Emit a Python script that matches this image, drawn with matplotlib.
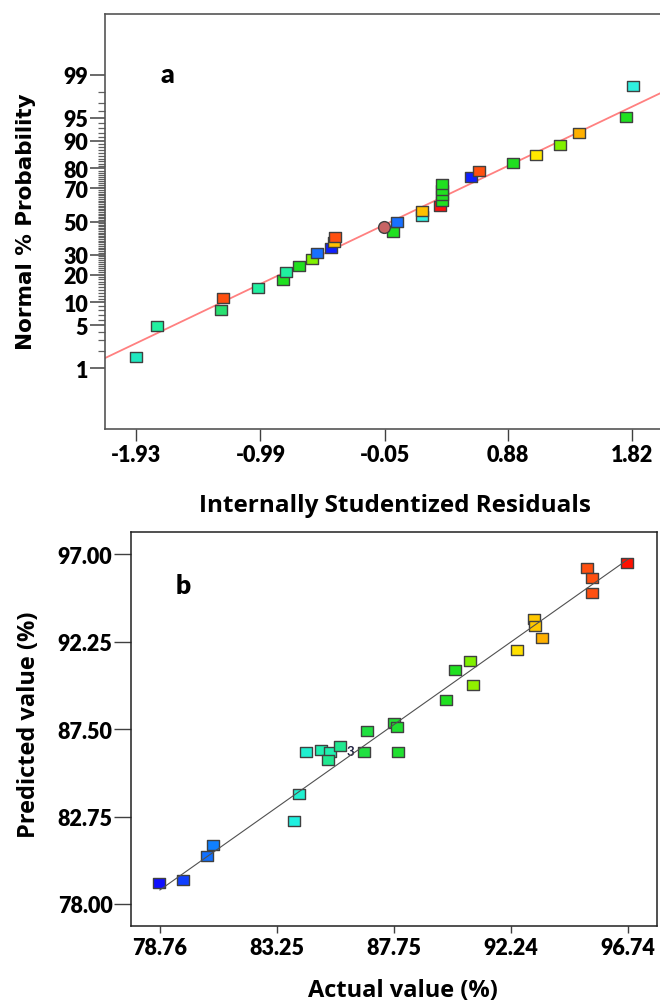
import numpy as np
import matplotlib
matplotlib.use("Agg")
import matplotlib.pyplot as plt
from matplotlib.path import Path
from statistics import NormalDist

# ---- data: panel a (normal probability of residuals)
res_x = [-1.93, -1.77, -1.29, -1.27, -1.005, -0.82, -0.80, -0.70, -0.60, -0.56,
         -0.46, -0.43, -0.425, 0.01, -0.056, 0.043, 0.229, 0.232, 0.367, 0.38,
         0.386, 0.386, 0.386, 0.604, 0.662, 0.921, 1.097, 1.274, 1.418, 1.777, 1.825]
res_p = [1.6, 4.8, 8.1, 11.3, 14.5, 17.7, 21.0, 24.2, 27.4, 30.6,
         33.9, 37.1, 40.3, 43.5, 46.8, 50.0, 53.2, 56.5, 59.7, 62.9,
         66.1, 69.4, 72.6, 75.8, 79.0, 82.3, 85.5, 88.7, 91.9, 95.2, 98.4]
res_c = ["#20e8c0", "#20f0a0", "#28e070", "#ff5010", "#20f0a0", "#20e020", "#20f0a0",
         "#20e020", "#80f000", "#1870ff", "#1020ff", "#ffc000", "#ff5010", "#20e020",
         "#c86464", "#1870ff", "#30f0e0", "#ffc000", "#ff1010", "#20e020", "#20e020",
         "#20e020", "#20e020", "#1020ff", "#ff5010", "#20e020", "#ffe800", "#80f000",
         "#ffb000", "#20e020", "#30f0e0"]
circle_idx = 14
prob_ticks = [1, 5, 10, 20, 30, 50, 70, 80, 90, 95, 99]
res_ticks = [-1.93, -0.99, -0.05, 0.88, 1.82]

# ---- data: panel b (predicted vs actual)
actual = [78.74, 79.66, 80.58, 80.79, 83.89, 84.10, 84.36, 84.94, 85.28, 85.22,
          85.69, 86.59, 86.70, 87.75, 87.86, 87.91, 89.75, 90.09, 90.66, 90.80,
          92.48, 93.13, 93.16, 93.45, 95.18, 95.36, 95.36, 96.70]
predicted = [79.13, 79.29, 80.60, 81.19, 82.50, 83.99, 86.25, 86.38, 86.25, 85.82,
             86.61, 86.25, 87.41, 87.83, 87.61, 86.25, 89.10, 90.69, 91.20, 89.88,
             91.82, 93.48, 93.08, 92.43, 96.24, 95.73, 94.92, 96.53]
pred_c = ["#1010ff", "#1040ff", "#1070ff", "#1080ff", "#20f0e0", "#20f0d0", "#20f0d0",
          "#20f0b0", "#20f0b0", "#20e890", "#20e890", "#20e040", "#20e040", "#20e030",
          "#20e030", "#20e030", "#20e020", "#20e020", "#80f000", "#90f000", "#ffe000",
          "#ffc800", "#ffc800", "#ffb000", "#ff5010", "#ff5010", "#ff5010", "#ff1000"]
replicate_idx = 11
act_ticks = [78.76, 83.25, 87.75, 92.24, 96.74]
pred_ticks = [78.00, 82.75, 87.50, 92.25, 97.00]

nd = NormalDist()


def probit(p):
    p = np.clip(np.asarray(p, dtype=float), 1e-6, 100 - 1e-6)
    return np.vectorize(lambda v: nd.inv_cdf(v / 100.0), otypes=[float])(p)


def inv_probit(z):
    z = np.asarray(z, dtype=float)
    return np.vectorize(lambda v: nd.cdf(v) * 100.0, otypes=[float])(z)


# slightly wide square like the original
rect = Path([(-1.25, -1), (1.25, -1), (1.25, 1), (-1.25, 1), (-1.25, -1)],
            [Path.MOVETO, Path.LINETO, Path.LINETO, Path.LINETO, Path.CLOSEPOLY])

W, H = 660, 1003
fig = plt.figure(figsize=(W / 100, H / 100), dpi=100)
tick_font = dict(family="Lato", weight="heavy", size=15.5)
label_font = dict(family="Open Sans", weight="bold")

# ================= panel a
ax1 = fig.add_axes([105 / W, 1 - 430 / H, 560 / W, 415 / H])
ax1.set_yscale("function", functions=(probit, inv_probit))
xlo, xhi = -2.166, 2.07
ax1.set_xlim(xlo, xhi)
ax1.set_ylim(0.05, 99.95)

lx = np.array([xlo, xhi])
ax1.plot(lx, inv_probit(lx), color="#ff8080", lw=1.3, zorder=2)

for i in range(len(res_x)):
    mk = "o" if i == circle_idx else rect
    ax1.plot(res_x[i], res_p[i], marker=mk, ms=8.5, mfc=res_c[i], mec="#404040",
             mew=1.0, ls="none", zorder=3)

ax1.set_xticks(res_ticks)
ax1.set_xticklabels([f"{v:.2f}" for v in res_ticks], **tick_font)
ax1.set_yticks(prob_ticks)
ax1.set_yticklabels([str(v) for v in prob_ticks], **tick_font)
ax1.set_yticks(list(range(1, 100)), minor=True)
ax1.tick_params(axis="y", which="major", length=11, width=1.2, color="#505050", pad=1)
ax1.tick_params(axis="y", which="minor", length=5, width=0.9, color="#606060")
ax1.tick_params(axis="x", which="major", length=8.5, width=1.0, color="#404040", pad=2)
ax1.tick_params(axis="x", which="minor", length=0)
for s in ax1.spines.values():
    s.set_color("#555555")
    s.set_linewidth(1.2)
ax1.spines["right"].set_visible(False)

fig.text(167 / W, 1 - 75 / H, "a", ha="center", va="center",
         family="Lato", weight="heavy", size=19)
fig.text(26.5 / W, 1 - 222 / H, "Normal % Probability", rotation=90, ha="center",
         va="center", family="DejaVu Sans", weight="bold", size=15.5)
fig.text(395 / W, 1 - 506 / H, "Internally Studentized Residuals", ha="center",
         va="center", size=17.5, **label_font)

# ================= panel b
ax2 = fig.add_axes([130.5 / W, 1 - 927 / H, 526.5 / W, 393.7 / H])
ax2.set_xlim(77.63, 97.85)
ax2.set_ylim(76.8, 98.2)
ax2.plot([act_ticks[0], act_ticks[-1]], [act_ticks[0], act_ticks[-1]],
         color="#505050", lw=0.8, zorder=4)
for i in range(len(actual)):
    ax2.plot(actual[i], predicted[i], marker=rect, ms=8.5, mfc=pred_c[i], mec="#404040",
             mew=1.0, ls="none", zorder=3)
ax2.annotate("3", (actual[replicate_idx], predicted[replicate_idx]), xytext=(-7, 1),
             textcoords="offset points", ha="right", va="center", size=9.5,
             color="#202040", family="Lato", weight="bold")

ax2.set_xticks(act_ticks)
ax2.set_xticklabels([f"{v:.2f}" for v in act_ticks], **tick_font)
ax2.set_yticks(pred_ticks)
ax2.set_yticklabels([f"{v:.2f}" for v in pred_ticks], **tick_font)
ax2.tick_params(axis="y", length=12, width=1.0, color="#404040", pad=1)
ax2.tick_params(axis="x", length=5, width=1.0, color="#404040", pad=3)
for s in ax2.spines.values():
    s.set_color("#202020")
    s.set_linewidth(1.1)

fig.text(183 / W, 1 - 586 / H, "b", ha="center", va="center",
         family="Lato", weight="heavy", size=19)
fig.text(29.5 / W, 1 - 725 / H, "Predicted value (%)", rotation=90, ha="center",
         va="center", size=17, **label_font)
fig.text(403 / W, 1 - 991 / H, "Actual value (%)", ha="center", va="center", size=17,
         **label_font)

fig.savefig("out.png", dpi=100)
